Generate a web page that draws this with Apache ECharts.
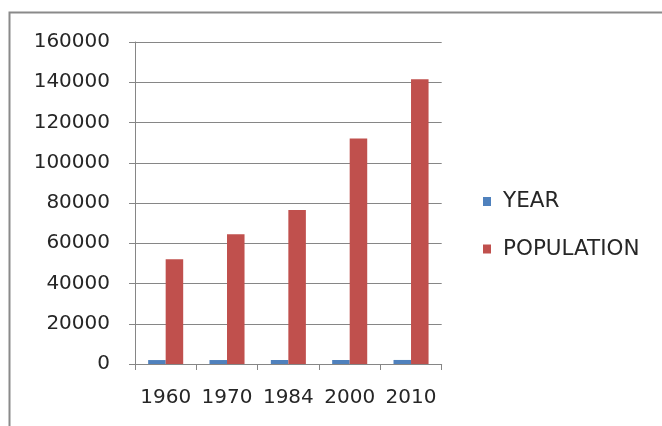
<!DOCTYPE html>
<html>
<head>
<meta charset="utf-8">
<script src="https://cdn.jsdelivr.net/npm/echarts@6/dist/echarts.min.js"></script>
<style>
  html, body { margin: 0; padding: 0; background: #fff; }
  #chart { width: 662px; height: 426px; }
</style>
</head>
<body>
<div id="chart"></div>
<script>
// Census years shown along the category axis
const categories = ['1960', '1970', '1984', '2000', '2010'];
// The "YEAR" column plotted as its own series
const yearValues = [1960, 1970, 1984, 2000, 2010];
// Population counts for each census year
const populationValues = [52000, 64500, 76500, 112000, 141500];
// Value axis range and step
const yMin = 0;
const yMax = 160000;
const yStep = 20000;

const axisGray = '#868686';
const textColor = '#262626';
const fontFamily = '"DejaVu Sans", sans-serif';

const chart = echarts.init(document.getElementById('chart'));
chart.setOption({
  animation: false,
  backgroundColor: '#ffffff',
  graphic: [{
    type: 'rect',
    shape: { x: 9.5, y: 12.5, width: 700, height: 500 },
    style: { fill: 'none', stroke: '#8a8a8a', lineWidth: 2 },
    silent: true
  }],
  grid: { left: 135, right: 220.3, top: 42, bottom: 62 },
  legend: {
    orient: 'vertical',
    left: 478,
    top: 184.5,
    icon: 'rect',
    itemWidth: 8,
    itemHeight: 9,
    itemGap: 23.5,
    textStyle: {
      color: textColor,
      fontFamily: fontFamily,
      fontSize: 21.5,
      lineHeight: 24,
      padding: [0, 0, 0, 7]
    },
    data: ['YEAR', 'POPULATION']
  },
  xAxis: {
    type: 'category',
    data: categories,
    axisLine: { lineStyle: { color: axisGray, width: 1 } },
    axisTick: { show: true, length: 6, lineStyle: { color: axisGray } },
    axisLabel: {
      interval: 0,
      hideOverlap: false,
      color: textColor,
      fontFamily: fontFamily,
      fontSize: 20,
      margin: 24
    },
    splitLine: { show: false }
  },
  yAxis: {
    type: 'value',
    min: yMin,
    max: yMax,
    interval: yStep,
    axisLine: { show: true, lineStyle: { color: axisGray, width: 1 } },
    axisTick: { show: true, length: 6, lineStyle: { color: axisGray } },
    axisLabel: {
      color: textColor,
      fontFamily: fontFamily,
      fontSize: 20,
      margin: 25,
      formatter: function (v) { return String(v); }
    },
    splitLine: { show: true, lineStyle: { color: axisGray, width: 1 } }
  },
  series: [
    {
      name: 'YEAR',
      type: 'bar',
      data: yearValues,
      itemStyle: { color: '#4F81BD' },
      barGap: '0%',
      barCategoryGap: '42.86%'
    },
    {
      name: 'POPULATION',
      type: 'bar',
      data: populationValues,
      itemStyle: { color: '#C0504D' },
      barGap: '0%',
      barCategoryGap: '42.86%'
    }
  ]
});
</script>
</body>
</html>
